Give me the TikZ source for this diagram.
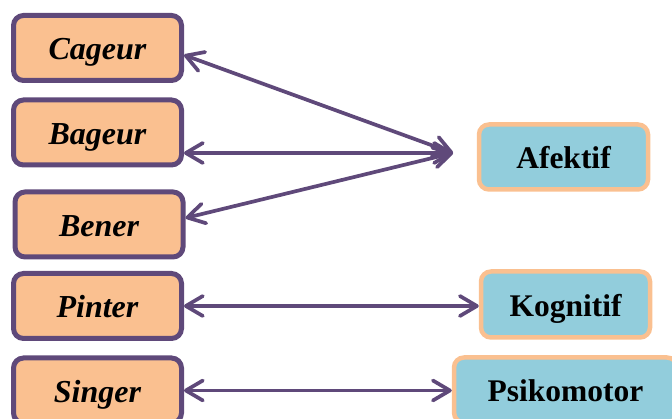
\documentclass[tikz,border=0pt]{standalone}
\usepackage{fontspec}
\setmainfont{Liberation Serif}
\usetikzlibrary{arrows.meta}
\definecolor{purp}{HTML}{5F497A}
\definecolor{peach}{HTML}{FAC090}
\definecolor{aqua}{HTML}{92CDDC}
\tikzset{
  leftbox/.style={draw=purp, fill=peach, line width=5pt, rounded corners=10pt,
    minimum width=168pt, minimum height=65pt, inner sep=0pt,
    text height=24pt, text depth=0pt,
    font=\fontsize{32}{35}\selectfont\bfseries\itshape},
  rightbox/.style={draw=peach, fill=aqua, line width=4.5pt, rounded corners=10pt,
    minimum width=169pt, minimum height=65pt, inner sep=0pt,
    text height=24pt, text depth=0pt,
    font=\fontsize{31.5}{35}\selectfont\bfseries},
  link/.style={draw=purp, line width=3.7pt, line cap=round,
    {Straight Barb[length=17pt,width=20pt,line cap=round,line join=round]}-{Straight Barb[length=17pt,width=20pt,line cap=round,line join=round]}}
}
\begin{document}
\begin{tikzpicture}[x=1pt,y=-1pt]
\useasboundingbox (0,0) rectangle (672,419);
\clip (0,0) rectangle (672,419);
\node[leftbox] (cageur) at (97.5,48) {Cageur};
\node[leftbox] (bageur) at (97.5,132.5) {Bageur};
\node[leftbox] (bener) at (99,224.5) {Bener};
\node[leftbox] (pinter) at (97.5,306) {Pinter};
\node[leftbox] (singer) at (97.5,390.5) {Singer};
\node[rightbox] (afektif) at (563.5,157) {Afektif};
\node[rightbox, minimum height=66pt] (kognitif) at (565.5,304.5) {Kognitif};
\node[rightbox, minimum width=223pt] (psikomotor) at (565.5,390) {Psikomotor};
\coordinate (hub) at (453,153);
\draw[link] ([yshift=-7pt]cageur.east) -- (hub);
\draw[link] (bageur.east |- hub) -- (hub);
\draw[link] ([yshift=6.5pt]bener.east) -- (hub);
\draw[link] (pinter.east) -- (pinter.east -| kognitif.west);
\draw[link] (singer.east) -- (singer.east -| psikomotor.west);
\end{tikzpicture}
\end{document}
